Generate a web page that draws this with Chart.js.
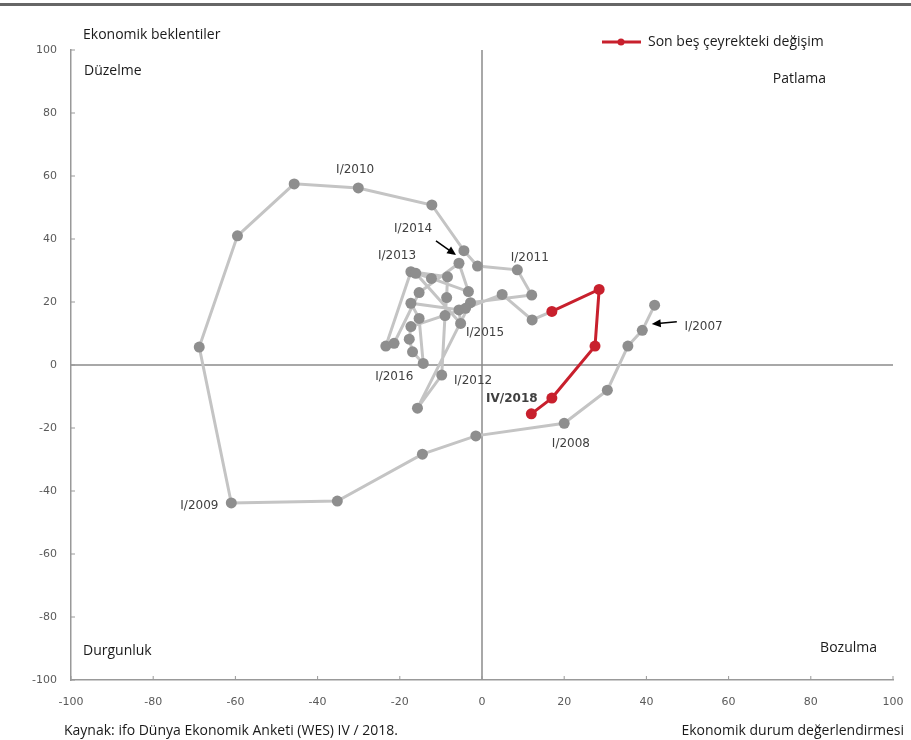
<!DOCTYPE html>
<html>
<head>
<meta charset="utf-8">
<script src="https://cdn.jsdelivr.net/npm/chart.js@4"></script>
<style>
  body { margin: 0; background: #fff; }
  #wrap { width: 911px; height: 740px; }
</style>
</head>
<body>
<div id="wrap"><canvas id="clock" width="911" height="740"></canvas></div>
<script>
// ifo ekonomik saat: x = durum değerlendirmesi, y = beklentiler (I/2007 - III/2017)
const grayX = [42, 39, 35.5, 30.5, 20, -1.5, -14.5, -35.2, -61, -68.8, -59.5, -45.7, -30.1, -12.2,
  -4.4, -1.1, 8.6, 12.1, -2.8, -15.7, -9.8, -9, -8.6, -8.4, -17.3, -23.4, -21.4, -15.3, -5.6,
  -3.3, -12.3, -16.1, -5.2, -5.6, -17.3, -15.3, -14.3, -16.9, -17.7, -17.3, -4, 4.9, 12.2];
const grayY = [19, 11, 6, -8, -18.5, -22.5, -28.3, -43.2, -43.8, 5.7, 41, 57.5, 56.2, 50.8,
  36.3, 31.4, 30.2, 22.2, 19.8, -13.7, -3.2, 15.7, 21.4, 28, 29.6, 6, 6.9, 23, 32.3,
  23.3, 27.5, 29.1, 13.2, 17.5, 19.6, 14.8, 0.5, 4.2, 8.2, 12.2, 18, 22.4, 14.3];

// son beş çeyrek: IV/2017 - IV/2018
const redX = [17, 28.5, 27.5, 17, 12];
const redY = [17, 24, 6, -10.5, -15.5];

const axisMin = -100;
const axisMax = 100;
const tickStep = 20;

// etiketler (veri koordinatında sol kenar / orta)
const pointLabels = [
  { text: "I/2010", x: -35.5, y: 61.9 },
  { text: "I/2014", x: -21.4, y: 43.2 },
  { text: "I/2013", x: -25.3, y: 34.6 },
  { text: "I/2011", x: 7.0, y: 34.0 },
  { text: "I/2015", x: -3.9, y: 10.2 },
  { text: "I/2016", x: -26.0, y: -3.8 },
  { text: "I/2012", x: -6.8, y: -5.1 },
  { text: "IV/2018", x: 1.0, y: -10.8, bold: true },
  { text: "I/2008", x: 17.0, y: -25.1 },
  { text: "I/2009", x: -73.4, y: -44.8 },
  { text: "I/2007", x: 49.3, y: 12.1 }
];
const arrows = [
  { from: [-11.2, 39.4], to: [-6.3, 34.9] },
  { from: [47.4, 13.7], to: [41.3, 13.0] }
];

const grayData = grayX.map((x, i) => ({ x: x, y: grayY[i] }));
grayData.push({ x: redX[0], y: redY[0] });
const redData = redX.map((x, i) => ({ x: x, y: redY[i] }));

const textFont = '14px "Open Sans", sans-serif';

const decor = {
  id: "decor",
  beforeDatasetsDraw(chart) {
    const { ctx, chartArea: a, scales: { x, y } } = chart;
    const x0 = x.getPixelForValue(0);
    const y0 = y.getPixelForValue(0);
    ctx.save();
    ctx.strokeStyle = "#8c8c8c";
    ctx.lineWidth = 1.5;
    ctx.beginPath();
    ctx.moveTo(x0, a.top);
    ctx.lineTo(x0, a.bottom);
    ctx.moveTo(a.left, y0);
    ctx.lineTo(a.right, y0);
    ctx.stroke();
    // küçük iç çentikler
    ctx.strokeStyle = "#999";
    ctx.lineWidth = 1;
    ctx.beginPath();
    for (let v = axisMin; v <= axisMax; v += tickStep) {
      const px = x.getPixelForValue(v);
      ctx.moveTo(px, a.bottom);
      ctx.lineTo(px, a.bottom - 4);
      const py = y.getPixelForValue(v);
      ctx.moveTo(a.left, py);
      ctx.lineTo(a.left + 4, py);
    }
    ctx.stroke();
    ctx.restore();
  },
  afterDraw(chart) {
    const { ctx, scales: { x, y } } = chart;
    ctx.save();
    // üst çizgi
    ctx.fillStyle = "#666";
    ctx.fillRect(0, 3, 911, 3);

    ctx.textBaseline = "middle";
    ctx.fillStyle = "#404040";
    pointLabels.forEach(l => {
      ctx.font = (l.bold ? "bold " : "") + '12px "DejaVu Sans", sans-serif';
      ctx.textAlign = "left";
      ctx.fillText(l.text, x.getPixelForValue(l.x), y.getPixelForValue(l.y));
    });

    ctx.strokeStyle = "#000";
    ctx.fillStyle = "#000";
    ctx.lineWidth = 1.5;
    arrows.forEach(ar => {
      const x1 = x.getPixelForValue(ar.from[0]), y1 = y.getPixelForValue(ar.from[1]);
      const x2 = x.getPixelForValue(ar.to[0]), y2 = y.getPixelForValue(ar.to[1]);
      const ang = Math.atan2(y2 - y1, x2 - x1);
      ctx.beginPath();
      ctx.moveTo(x1, y1);
      ctx.lineTo(x2 - 6 * Math.cos(ang), y2 - 6 * Math.sin(ang));
      ctx.stroke();
      ctx.beginPath();
      ctx.moveTo(x2, y2);
      ctx.lineTo(x2 - 9 * Math.cos(ang) + 4 * Math.sin(ang), y2 - 9 * Math.sin(ang) - 4 * Math.cos(ang));
      ctx.lineTo(x2 - 9 * Math.cos(ang) - 4 * Math.sin(ang), y2 - 9 * Math.sin(ang) + 4 * Math.cos(ang));
      ctx.closePath();
      ctx.fill();
    });

    // köşe yazıları
    ctx.fillStyle = "#1a1a1a";
    ctx.font = textFont;
    ctx.textAlign = "left";
    ctx.fillText("Ekonomik beklentiler", 83, 35);
    ctx.fillText("Düzelme", 84, 71);
    ctx.fillText("Durgunluk", 83, 651);
    ctx.fillText("Kaynak: ifo Dünya Ekonomik Anketi (WES) IV / 2018.", 64, 731);
    ctx.textAlign = "right";
    ctx.fillText("Patlama", 826, 79);
    ctx.fillText("Bozulma", 877, 648);
    ctx.fillText("Ekonomik durum değerlendirmesi", 904, 731);

    // açıklama
    const red = chart.data.datasets[0];
    ctx.strokeStyle = red.borderColor;
    ctx.lineWidth = 3;
    ctx.beginPath();
    ctx.moveTo(602, 42);
    ctx.lineTo(641, 42);
    ctx.stroke();
    ctx.fillStyle = red.pointBackgroundColor;
    ctx.beginPath();
    ctx.arc(621, 42, 3.5, 0, Math.PI * 2);
    ctx.fill();
    ctx.fillStyle = "#1a1a1a";
    ctx.textAlign = "left";
    ctx.fillText(red.label, 648, 42);
    ctx.restore();
  }
};

new Chart(document.getElementById("clock"), {
  type: "scatter",
  data: {
    datasets: [
      {
        label: "Son beş çeyrekteki değişim",
        data: redData,
        showLine: true,
        borderColor: "#c8202d",
        borderWidth: 3,
        pointBackgroundColor: "#c8202d",
        pointBorderWidth: 0,
        pointRadius: 5.5
      },
      {
        label: "Geçmiş",
        data: grayData,
        showLine: true,
        borderColor: "#c4c4c4",
        borderWidth: 3,
        pointBackgroundColor: "#8e8e8e",
        pointBorderWidth: 0,
        pointRadius: ctx => (ctx.dataIndex === grayData.length - 1 ? 0 : 5.5)
      }
    ]
  },
  options: {
    responsive: false,
    animation: false,
    layout: { padding: { top: 50, right: 18, left: 0, bottom: 0 } },
    plugins: {
      legend: { display: false },
      tooltip: { enabled: false }
    },
    scales: {
      x: {
        type: "linear",
        min: axisMin,
        max: axisMax,
        grid: { display: false, drawTicks: false },
        border: { display: true, color: "#999", width: 1.5 },
        ticks: {
          stepSize: tickStep,
          padding: 16,
          color: "#5a5a5a",
          font: { family: "DejaVu Sans", size: 11 }
        },
        afterFit: s => { s.height = 60; s.paddingLeft = 0; s.paddingRight = 0; }
      },
      y: {
        type: "linear",
        min: axisMin,
        max: axisMax,
        grid: { display: false, drawTicks: false },
        border: { display: true, color: "#999", width: 1.5 },
        ticks: {
          stepSize: tickStep,
          padding: 14,
          color: "#5a5a5a",
          font: { family: "DejaVu Sans", size: 11 }
        },
        afterFit: s => { s.width = 71; s.paddingTop = 0; s.paddingBottom = 0; }
      }
    }
  },
  plugins: [decor]
});
</script>
</body>
</html>
